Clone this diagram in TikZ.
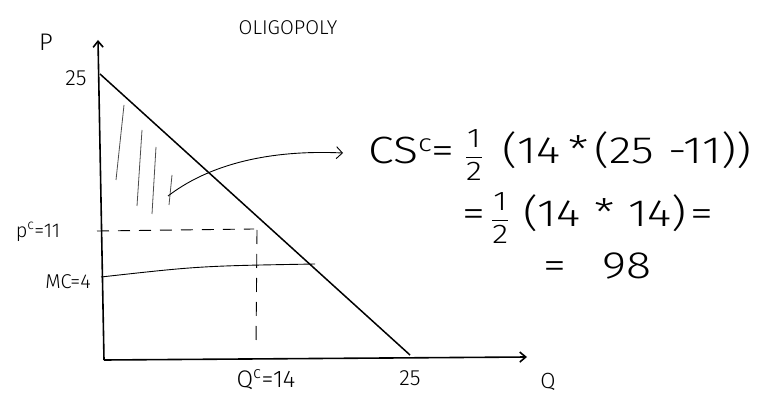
\documentclass[tikz,border=0pt]{standalone}
\usepackage{fontspec}
\setmainfont{Fira Sans Light}
\newfontfamily\eqfont[FakeStretch=1.22]{Fira Sans Light}
\usetikzlibrary{arrows.meta}
\newcommand\halfsym{\ensuremath{\displaystyle\frac{\mbox{\fontsize{27}{29}\selectfont 1}}{\mbox{\fontsize{27}{29}\selectfont 2}}}}
\begin{document}
\begin{tikzpicture}[x=1pt,y=-1pt,
  axis/.style={line width=1.6pt,-{Straight Barb[length=6pt,width=10pt]}},
  curve/.style={line width=1.5pt},
  thin line/.style={line width=0.9pt},
  hatch/.style={line width=0.8pt,black!70},
  lbl/.style={font=\fontsize{20}{22}\selectfont,inner sep=1pt},
  eq/.style={font=\eqfont\fontsize{38}{42}\selectfont,inner sep=0pt,anchor=west}]
\useasboundingbox (0,0) rectangle (765,403);
% axes
\coordinate (O) at (104,360);
\coordinate (Ptop) at (98,40);
\coordinate (Qend) at (527,357);
\draw[axis] (O) -- (Ptop);
\draw[axis] (O) -- (Qend);
% demand
\coordinate (D0) at (100,74);
\coordinate (D1) at (410,355);
\draw[curve] (D0) -- (D1);
% price line (dashed)
\coordinate (pcL) at (97,231);
\coordinate (pcR) at (254,229);
\draw[thin line,dash pattern=on 12pt off 9pt] (pcL) -- (pcR);
\coordinate (qT) at (257,230);
\coordinate (qB) at (256,346);
\draw[thin line,dash pattern=on 14pt off 10pt] (qT) -- (qB);
% MC line
\coordinate (mcL) at (101,277);
\coordinate (mcR) at (315,264);
\draw[thin line] (mcL) .. controls (200,266) .. (mcR);
% hatching
\draw[hatch] (124,105) -- (116,180);
\draw[hatch] (142,130) -- (137,206);
\draw[hatch] (156,147) -- (152,214);
\draw[hatch] (172,175) -- (169,205);
% arrow
\coordinate (aS) at (168,196);
\coordinate (aE) at (343,153);
\draw[thin line,-{Straight Barb[length=6pt,width=12pt]}] (aS) .. controls (215,160) and (280,150) .. (aE);
% labels
\node[lbl] (title) at (288,28) {OLIGOPOLY};
\node[lbl,font=\fontsize{24}{26}\selectfont] (P) at (46,42) {P};
\node[lbl,font=\fontsize{22}{24}\selectfont] (l25a) at (76,78) {25};
\node[lbl] (pc) at (38,232) {p$^{\mathrm{c}}$=11};
\node[lbl] (mc) at (68,282) {MC=4};
\node[lbl,font=\fontsize{24}{26}\selectfont] (qc) at (266,380) {Q$^{\mathrm{c}}$=14};
\node[lbl,font=\fontsize{22}{24}\selectfont] (l25b) at (410,378) {25};
\node[lbl,font=\fontsize{22}{24}\selectfont] (Q) at (548,382) {Q};
% equations
\node[eq] (e1) at (368,155) {CS\raisebox{12pt}{\fontsize{24}{26}\selectfont c}=\hspace{10pt}\halfsym\hspace{20pt}(14\hspace{8pt}*\hspace{6pt}(25\hspace{14pt}-11))};
\node[eq] (e2) at (462,218) {=\hspace{6pt}\halfsym\hspace{14pt}(14\hspace{14pt}*\hspace{14pt}14)\hspace{4pt}=};
\node[eq] (e3) at (543,266) {=\hspace{36pt}98};
\end{tikzpicture}
\end{document}
